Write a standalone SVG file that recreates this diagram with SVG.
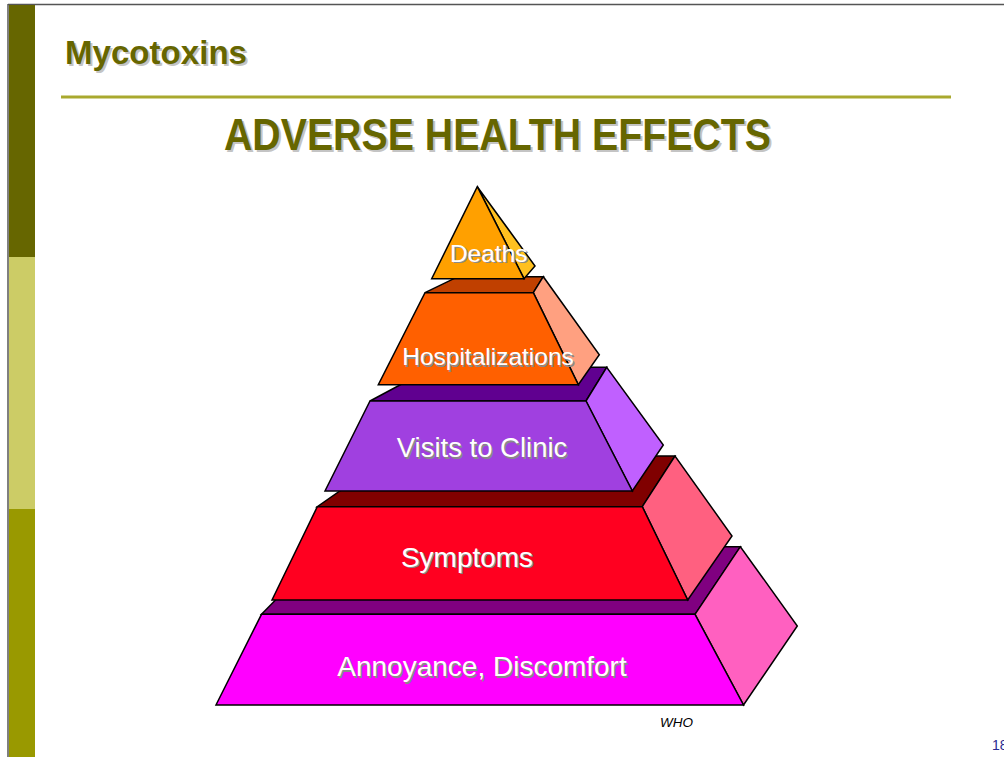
<svg xmlns="http://www.w3.org/2000/svg" width="1004" height="757" viewBox="0 0 1004 757">
  <defs>
    <style>
      .edge { stroke: #000; stroke-width: 1.5; stroke-linejoin: miter; }
      .lbl { font-family: "Liberation Sans", Arial, sans-serif; fill: #ffffff; text-anchor: middle; }
      .lbls { font-family: "Liberation Sans", Arial, sans-serif; fill: #8a8a8a; text-anchor: middle; }
      .ttl { font-family: "Liberation Sans", Arial, sans-serif; font-weight: bold; fill: #666600; }
      .ttls { font-family: "Liberation Sans", Arial, sans-serif; font-weight: bold; fill: #c4c4c4; }
    </style>
  </defs>
  <rect x="0" y="0" width="1004" height="757" fill="#ffffff"/>

  <!-- frame and side bar -->
  <g id="frame">
    <line x1="8" y1="4.5" x2="1004" y2="4.5" stroke="#555555" stroke-width="1.5"/>
    <line x1="8" y1="4" x2="8" y2="757" stroke="#555555" stroke-width="1.5"/>
    <rect x="9" y="5" width="26" height="252" fill="#666600"/>
    <rect x="9" y="257" width="26" height="252" fill="#cccc66"/>
    <rect x="9" y="509" width="26" height="248" fill="#999900"/>
    <line x1="61" y1="97" x2="951" y2="97" stroke="#a9a92e" stroke-width="3"/>
  </g>

  <g id="titles">
    <text class="ttls" x="67" y="66" font-size="34" textLength="182" lengthAdjust="spacingAndGlyphs">Mycotoxins</text>
    <text class="ttl" x="65" y="64" font-size="34" textLength="182" lengthAdjust="spacingAndGlyphs">Mycotoxins</text>
    <text class="ttls" x="226" y="152" font-size="44" textLength="547" lengthAdjust="spacingAndGlyphs">ADVERSE HEALTH EFFECTS</text>
    <text class="ttl" x="224" y="150" font-size="44" textLength="547" lengthAdjust="spacingAndGlyphs">ADVERSE HEALTH EFFECTS</text>
  </g>

  <!-- bottom tier -->
  <g id="annoyance">
    <polygon class="edge" fill="#800080" points="261.5,614.3 695,614.3 740.4,546.7 328,546.7"/>
    <polygon class="edge" fill="#ff60c0" points="695,614.3 740.4,546.7 797.3,626 743.5,705"/>
    <polygon class="edge" fill="#ff00ff" points="261.5,614.3 695,614.3 743.5,705 216,705"/>
    <text class="lbls" x="483.5" y="677.5" font-size="28">Annoyance, Discomfort</text>
    <text class="lbl" x="482" y="676" font-size="28">Annoyance, Discomfort</text>
  </g>

  <g id="symptoms">
    <polygon class="edge" fill="#800000" points="317.3,506.7 642.3,506.7 675,456 390,456"/>
    <polygon class="edge" fill="#ff6080" points="642.3,506.7 675,456 732,536 687.7,600"/>
    <polygon class="edge" fill="#ff0020" points="317.3,506.7 642.3,506.7 687.7,600 272,600"/>
    <text class="lbls" x="468.5" y="568" font-size="28">Symptoms</text>
    <text class="lbl" x="467" y="566.5" font-size="28">Symptoms</text>
  </g>

  <g id="visits">
    <polygon class="edge" fill="#600090" points="370,401 586,401 606.7,367.3 433,367.3"/>
    <polygon class="edge" fill="#c060ff" points="586,401 606.7,367.3 663.3,445 632.3,491"/>
    <polygon class="edge" fill="#a040e0" points="370,401 586,401 632.3,491 325,491"/>
    <text class="lbls" x="483.5" y="458.8" font-size="27.5">Visits to Clinic</text>
    <text class="lbl" x="482" y="457.3" font-size="27.5">Visits to Clinic</text>
  </g>

  <g id="hospitalizations">
    <polygon class="edge" fill="#c04000" points="425,292.7 533.3,292.7 543.3,276.7 458,276.7"/>
    <polygon class="edge" fill="#ffa080" points="533.3,292.7 543.3,276.7 599.3,354.7 578.3,384.7"/>
    <polygon class="edge" fill="#ff6000" points="425,292.7 533.3,292.7 578.3,384.7 378.3,384.7"/>
    <text class="lbls" x="489.5" y="366.5" font-size="24.5">Hospitalizations</text>
    <text class="lbl" x="488" y="365" font-size="24.5">Hospitalizations</text>
  </g>

  <g id="deaths">
    <polygon class="edge" fill="#ffc020" points="477.3,186.7 535,266 524,278.7"/>
    <polygon class="edge" fill="#ffa000" points="477.3,186.7 524,278.7 431.7,278.7"/>
    <text class="lbls" x="490.2" y="263.2" font-size="24.5">Deaths</text>
    <text class="lbl" x="488.7" y="261.7" font-size="24.5">Deaths</text>
  </g>

  <g id="connectors"></g>

  <g id="footer">
    <text x="660" y="727" font-family="'Liberation Sans', Arial, sans-serif" font-style="italic" font-size="13.5" fill="#000000">WHO</text>
    <text x="992" y="750" font-family="'Liberation Sans', Arial, sans-serif" font-size="14" fill="#2a2a90">18</text>
  </g>
</svg>
